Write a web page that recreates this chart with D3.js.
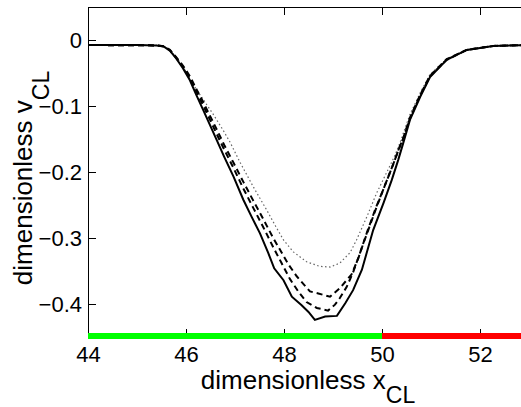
<!DOCTYPE html>
<html>
<head>
<meta charset="utf-8">
<script src="https://cdn.jsdelivr.net/npm/d3@7"></script>
<style>
  html, body { margin: 0; padding: 0; background: #fff; }
  svg { display: block; }
  text { font-family: "Liberation Sans", Arial, Helvetica, sans-serif; fill: #000; }
</style>
</head>
<body>
<svg id="chart" width="521" height="407"></svg>
<script>
// ---- data ----
const xTicks = [44, 46, 48, 50, 52];
const yTicks = [0, -0.1, -0.2, -0.3, -0.4];

const solidX  = [44, 45.0, 45.4, 45.55, 45.67, 45.80, 45.94, 46.08, 46.21, 46.35, 46.49, 46.63, 46.78, 46.97, 47.17, 47.34, 47.51, 47.68, 47.80, 47.99, 48.16, 48.36, 48.50, 48.63, 48.84, 49.08, 49.25, 49.41, 49.59, 49.82, 50.03, 50.20, 50.33, 50.43, 50.57, 50.78, 50.98, 51.32, 51.73, 52.27, 53.0];
const solidY  = [-0.0076, -0.0077, -0.0082, -0.0100, -0.016, -0.028, -0.043, -0.061, -0.083, -0.106, -0.129, -0.152, -0.177, -0.207, -0.242, -0.268, -0.293, -0.323, -0.346, -0.364, -0.389, -0.402, -0.412, -0.424, -0.419, -0.418, -0.399, -0.379, -0.348, -0.288, -0.247, -0.212, -0.182, -0.157, -0.121, -0.086, -0.056, -0.030, -0.015, -0.009, -0.0076];

const dashAX  = [44, 45.4, 45.55, 45.67, 45.80, 45.94, 46.08, 46.21, 46.35, 46.49, 46.63, 46.78, 46.97, 47.17, 47.37, 47.58, 47.78, 47.95, 48.12, 48.30, 48.46, 48.67, 48.90, 49.04, 49.14, 49.28, 49.41, 49.55, 49.70, 49.87, 50.05, 50.22, 50.35, 50.45, 50.57, 50.78, 50.98, 51.32, 51.73, 52.27, 53.0];
const dashAY  = [-0.0076, -0.0082, -0.0098, -0.0155, -0.027, -0.041, -0.058, -0.078, -0.099, -0.121, -0.143, -0.166, -0.194, -0.225, -0.254, -0.284, -0.314, -0.338, -0.362, -0.382, -0.397, -0.406, -0.410, -0.401, -0.391, -0.374, -0.352, -0.323, -0.290, -0.255, -0.222, -0.190, -0.164, -0.146, -0.119, -0.084, -0.055, -0.030, -0.015, -0.009, -0.0076];

const dashBX  = [44, 45.4, 45.55, 45.67, 45.80, 45.94, 46.08, 46.21, 46.35, 46.49, 46.63, 46.78, 46.97, 47.17, 47.37, 47.51, 47.78, 48.09, 48.26, 48.53, 48.70, 48.94, 49.14, 49.38, 49.52, 49.62, 49.72, 49.88, 50.05, 50.22, 50.35, 50.45, 50.57, 50.78, 50.98, 51.32, 51.73, 52.27, 53.0];
const dashBY  = [-0.0076, -0.0082, -0.0096, -0.015, -0.026, -0.039, -0.055, -0.074, -0.094, -0.115, -0.136, -0.159, -0.186, -0.215, -0.243, -0.262, -0.300, -0.340, -0.358, -0.381, -0.384, -0.389, -0.376, -0.355, -0.330, -0.308, -0.288, -0.255, -0.222, -0.190, -0.164, -0.145, -0.118, -0.083, -0.054, -0.029, -0.015, -0.009, -0.0076];

const dotX    = [44, 45.4, 45.55, 45.67, 45.80, 45.94, 46.01, 46.15, 46.35, 46.56, 46.76, 46.90, 47.10, 47.37, 47.65, 47.82, 47.99, 48.19, 48.46, 48.73, 48.94, 49.14, 49.35, 49.48, 49.69, 49.89, 50.10, 50.27, 50.37, 50.57, 50.78, 50.98, 51.32, 51.73, 52.27, 53.0];
const dotY    = [-0.0076, -0.0082, -0.0095, -0.015, -0.026, -0.040, -0.050, -0.068, -0.090, -0.113, -0.137, -0.155, -0.185, -0.222, -0.258, -0.281, -0.303, -0.321, -0.336, -0.343, -0.344, -0.338, -0.322, -0.303, -0.268, -0.232, -0.200, -0.174, -0.155, -0.113, -0.080, -0.052, -0.029, -0.015, -0.009, -0.0076];

const barSegments = [[44, 50, "#00ff00"], [50, 53, "#ff0000"]];

// ---- layout ----
const svg = d3.select("#chart");
const L = 88, R = 529, T = 7, B = 337;
const x = d3.scaleLinear().domain([44, 53]).range([L, R]);
const y = d3.scaleLinear().domain([-0.45, 0.05]).range([B, T]);

const fmtY = d => d === 0 ? "0" : d3.format(".1f")(d);

svg.append("defs").append("clipPath").attr("id", "clip")
  .append("rect").attr("x", L).attr("y", T).attr("width", R - L).attr("height", B - T);

// axes (ticks inward)
const gx = svg.append("g").attr("transform", `translate(0,${B})`)
  .call(d3.axisBottom(x).tickValues(xTicks).tickSizeInner(-8).tickSizeOuter(0).tickPadding(9).tickFormat(d3.format("d")));
const gxt = svg.append("g").attr("transform", `translate(0,${T})`)
  .call(d3.axisTop(x).tickValues(xTicks).tickSizeInner(-8).tickSizeOuter(0).tickFormat(""));
const gy = svg.append("g").attr("transform", `translate(${L},0)`)
  .call(d3.axisLeft(y).tickValues(yTicks).tickSizeInner(-8).tickSizeOuter(0).tickPadding(6).tickFormat(fmtY));
const gyr = svg.append("g").attr("transform", `translate(${R},0)`)
  .call(d3.axisRight(y).tickValues(yTicks).tickSizeInner(-8).tickSizeOuter(0).tickFormat(""));

[gx, gxt, gy, gyr].forEach(g => {
  g.select(".domain").remove();
  g.selectAll(".tick line").attr("stroke", "#000").attr("stroke-width", 1);
  g.selectAll(".tick text").attr("font-size", 22).attr("font-family", '"Liberation Sans", Arial, sans-serif').attr("fill", "#000");
});

// box
svg.append("rect").attr("x", L + 0.5).attr("y", T + 0.5).attr("width", R - L).attr("height", B - T)
  .attr("fill", "none").attr("stroke", "#000").attr("stroke-width", 1);

// curves
const line = d3.line().x(d => x(d[0])).y(d => y(d[1]));
const zip = (a, b) => a.map((v, i) => [v, b[i]]);
const plot = svg.append("g").attr("clip-path", "url(#clip)");

plot.append("path").datum(zip(dotX, dotY)).attr("d", line)
  .attr("fill", "none").attr("stroke", "#666").attr("stroke-width", 1.2).attr("stroke-dasharray", "1.5,2.5");
plot.append("path").datum(zip(dashBX, dashBY)).attr("d", line)
  .attr("fill", "none").attr("stroke", "#000").attr("stroke-width", 2).attr("stroke-dasharray", "6,4");
plot.append("path").datum(zip(dashAX, dashAY)).attr("d", line)
  .attr("fill", "none").attr("stroke", "#000").attr("stroke-width", 2).attr("stroke-dasharray", "6,4");
plot.append("path").datum(zip(solidX, solidY)).attr("d", line)
  .attr("fill", "none").attr("stroke", "#000").attr("stroke-width", 2);

// colored bar on the bottom axis
svg.selectAll("line.bar").data(barSegments).join("line").attr("class", "bar")
  .attr("x1", d => x(d[0])).attr("x2", d => x(d[1]))
  .attr("y1", y(-0.45) - 1).attr("y2", y(-0.45) - 1)
  .attr("stroke", d => d[2]).attr("stroke-width", 6);

// axis labels
const xl = svg.append("text").attr("x", (L + 522) / 2 + 3).attr("y", 389)
  .attr("text-anchor", "middle").attr("font-size", 26);
xl.append("tspan").text("dimensionless x");
xl.append("tspan").attr("dy", 14).attr("font-size", 23).text("CL");

const yl = svg.append("text").attr("transform", `translate(32,${(T + B) / 2 + 6}) rotate(-90)`)
  .attr("text-anchor", "middle").attr("font-size", 26);
yl.append("tspan").text("dimensionless v");
yl.append("tspan").attr("dy", 17).attr("font-size", 23).text("CL");
</script>
</body>
</html>
